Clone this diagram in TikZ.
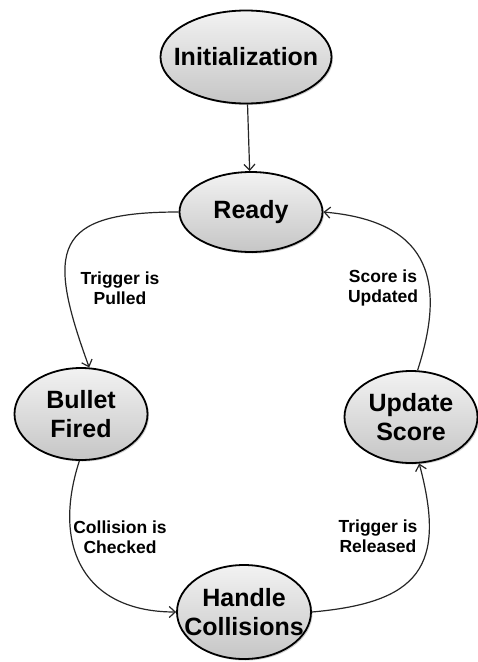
\documentclass[tikz,border=0pt]{standalone}
\usepackage{fontspec}
\setmainfont{Liberation Sans}
\usetikzlibrary{shapes.geometric,shadows,arrows.meta}

\tikzset{basic/.style={draw,line width=1.8pt,ellipse,inner sep=-15pt,
                       top color=gray!10,bottom color=gray!45,
                       drop shadow={shadow xshift=1.5pt,shadow yshift=-1.5pt,opacity=.4},
                       align=center,font=\fontsize{25}{29}\selectfont\bfseries}}
\tikzset{states/.style={basic,minimum width=133pt,minimum height=92pt}}
\tikzset{events/.style={align=center,font=\fontsize{17.5}{20}\selectfont\bfseries}}
\tikzset{flow/.style={-{Straight Barb[length=6pt,width=11pt]},line width=1.2pt,black!85}}

\begin{document}
\begin{tikzpicture}[x=1pt,y=1pt]
        \useasboundingbox (0,0) rectangle (478,-662);
        \node[basic,minimum width=171pt,minimum height=93pt] (init) at (246,-57) {Initialization};
        \node[basic,minimum width=143pt,minimum height=80pt] (ready) at (251,-212) {Ready};
        \node[states] (bullet) at (81,-414) {Bullet\\Fired};
        \node[states] (update) at (411,-417) {Update\\Score};
        \node[states,minimum width=134pt,minimum height=94pt] (handle) at (244,-612) {Handle\\Collisions};
        % Transitions
        \draw[flow] (init) -- (ready);
        \draw[flow] (ready.west) to[out=180,in=110,looseness=1.8] (bullet.80);
        \draw[flow] (bullet.268) to[out=252,in=180,looseness=1.3] (handle.west);
        \draw[flow] (handle.east) to[out=5,in=-75,looseness=1.5] (update.-80);
        \draw[flow] (update.82) to[out=72,in=-5,looseness=1.4] (ready.east);
        % Labels
        \node[events] (pulled) at (120,-288) {Trigger is\\Pulled};
        \node[events] (updated) at (383,-288) {Score is\\Updated};
        \node[events] (checked) at (120,-537) {Collision is\\Checked};
        \node[events] (released) at (378,-536) {Trigger is\\Released};
\end{tikzpicture}
\end{document}
